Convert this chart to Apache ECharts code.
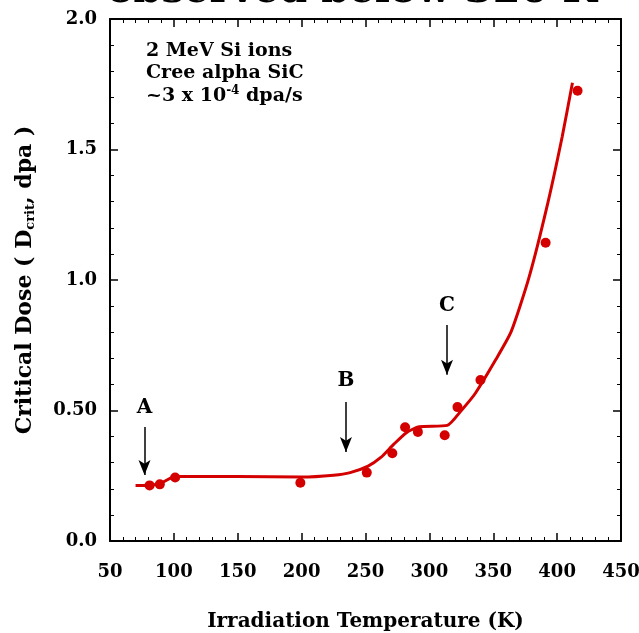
<!DOCTYPE html>
<html>
<head>
<meta charset="utf-8">
<script src="https://cdn.jsdelivr.net/npm/echarts@6/dist/echarts.min.js"></script>
<style>
  html, body { margin: 0; padding: 0; background: #fff; }
  #chart { width: 639px; height: 633px; }
</style>
</head>
<body>
<div id="chart"></div>
<script>
// Measured critical dose (dpa) vs irradiation temperature (K)
const measTemp = [81, 89, 101, 199, 251, 271, 281, 291, 312, 322, 340, 391, 416];
const measDose = [0.213, 0.217, 0.243, 0.223, 0.262, 0.336, 0.436, 0.418, 0.405, 0.513, 0.617, 1.143, 1.725];

// Fitted curve through the data
const fitTemp = [70, 78, 89, 101, 150, 200, 225, 238, 252, 262, 272, 282, 292, 314, 325, 336, 352, 364, 378, 392, 404, 412];
const fitDose = [0.213, 0.213, 0.220, 0.247, 0.247, 0.245, 0.252, 0.262, 0.287, 0.320, 0.370, 0.415, 0.438, 0.443, 0.500, 0.566, 0.695, 0.802, 1.010, 1.280, 1.550, 1.756];

// Stage markers A, B, C: arrow x, arrow top, arrow tip, label y
const stageNames = ['A', 'B', 'C'];
const stageTemp = [77, 234.7, 313.8];
const stageTop = [0.437, 0.533, 0.828];
const stageTip = [0.253, 0.341, 0.637];
const stageLabelDose = [0.51, 0.613, 0.90];

// Axis tick labels
const yTickLabels = { '0': '0.0', '0.5': '0.50', '1': '1.0', '1.5': '1.5', '2': '2.0' };

const serif = '"DejaVu Serif", "Liberation Serif", serif';
const red = '#d40000';

const chart = echarts.init(document.getElementById('chart'));

const baseAxis = {
  axisLine: { show: true, onZero: false, lineStyle: { color: '#000', width: 2 } },
  axisTick: { show: true, inside: true, length: 8, lineStyle: { color: '#000', width: 1.5 } },
  minorTick: { show: true, splitNumber: 5, length: 4, lineStyle: { color: '#000', width: 1 } },
  splitLine: { show: false },
  minorSplitLine: { show: false }
};

function xAx(extra) {
  return Object.assign({}, baseAxis, { type: 'value', min: 50, max: 450, interval: 50 }, extra);
}
function yAx(extra) {
  return Object.assign({}, baseAxis, { type: 'value', min: 0, max: 2, interval: 0.5 }, extra);
}

const arrowLines = stageNames.map((n, i) => [
  { coord: [stageTemp[i], stageTop[i]] },
  { coord: [stageTemp[i], stageTip[i]] }
]);

chart.setOption({
  animation: false,
  backgroundColor: '#fff',
  grid: { left: 110, right: 18, top: 19, bottom: 92, containLabel: false, outerBoundsMode: 'none' },
  xAxis: [
    xAx({
      position: 'bottom',
      name: 'Irradiation Temperature (K)',
      nameLocation: 'middle',
      nameGap: 71,
      nameTextStyle: { fontFamily: serif, fontWeight: 'bold', fontSize: 20, color: '#000' },
      axisLabel: { fontFamily: serif, fontWeight: 'bold', fontSize: 18, color: '#000', margin: 22 }
    }),
    xAx({ position: 'top', axisLabel: { show: false } })
  ],
  yAxis: [
    yAx({
      position: 'left',
      name: 'Critical Dose ( D{sub|crit}, dpa )',
      nameLocation: 'middle',
      nameGap: 73,
      nameTextStyle: {
        fontFamily: serif, fontWeight: 'bold', fontSize: 22, color: '#000',
        rich: { sub: { fontFamily: serif, fontWeight: 'bold', fontSize: 13, color: '#000', verticalAlign: 'bottom', padding: [11, 0, 0, 0] } }
      },
      axisLabel: {
        fontFamily: serif, fontWeight: 'bold', fontSize: 18, color: '#000', margin: 13,
        formatter: v => yTickLabels[String(v)] || ''
      }
    }),
    yAx({ position: 'right', axisLabel: { show: false } })
  ],
  series: [
    {
      type: 'line',
      data: fitTemp.map((t, i) => [t, fitDose[i]]),
      smooth: 0.2,
      showSymbol: false,
      lineStyle: { color: red, width: 3 },
      z: 3
    },
    {
      type: 'scatter',
      data: measTemp.map((t, i) => [t, measDose[i]]),
      symbol: 'circle',
      symbolSize: 10,
      itemStyle: { color: red, opacity: 1 },
      z: 4
    },
    {
      type: 'scatter',
      data: stageNames.map((n, i) => ({ name: n, value: [stageTemp[i], stageLabelDose[i]] })),
      symbolSize: 1,
      itemStyle: { opacity: 0 },
      label: {
        show: true, position: 'inside', formatter: '{b}',
        fontFamily: serif, fontWeight: 'bold', fontSize: 20, color: '#000', opacity: 1
      },
      silent: true,
      markLine: {
        silent: true,
        symbol: ['none', 'arrow'],
        symbolSize: [9, 15],
        label: { show: false },
        lineStyle: { color: '#000', width: 1.5, type: 'solid', opacity: 1 },
        data: arrowLines
      }
    }
  ],
  graphic: [
    {
      type: 'text', x: 352, y: 12,
      style: {
        text: 'observed below 320 K', fontFamily: serif, fontWeight: 'bold', fontSize: 40,
        fill: '#000', align: 'center', verticalAlign: 'bottom'
      }
    },
    {
      type: 'text', x: 146, y: 51,
      style: { text: '2 MeV Si ions', fontFamily: serif, fontWeight: 'bold', fontSize: 19, fill: '#000', verticalAlign: 'middle' }
    },
    {
      type: 'text', x: 146, y: 73,
      style: { text: 'Cree alpha SiC', fontFamily: serif, fontWeight: 'bold', fontSize: 19, fill: '#000', verticalAlign: 'middle' }
    },
    {
      type: 'text', x: 146, y: 96,
      style: {
        text: '~3 x 10{sup|-4} dpa/s', fontFamily: serif, fontWeight: 'bold', fontSize: 19, fill: '#000', verticalAlign: 'middle',
        rich: { sup: { fontFamily: serif, fontWeight: 'bold', fontSize: 12, fill: '#000', padding: [0, 0, 11, 0] } }
      }
    }
  ]
});
</script>
</body>
</html>
